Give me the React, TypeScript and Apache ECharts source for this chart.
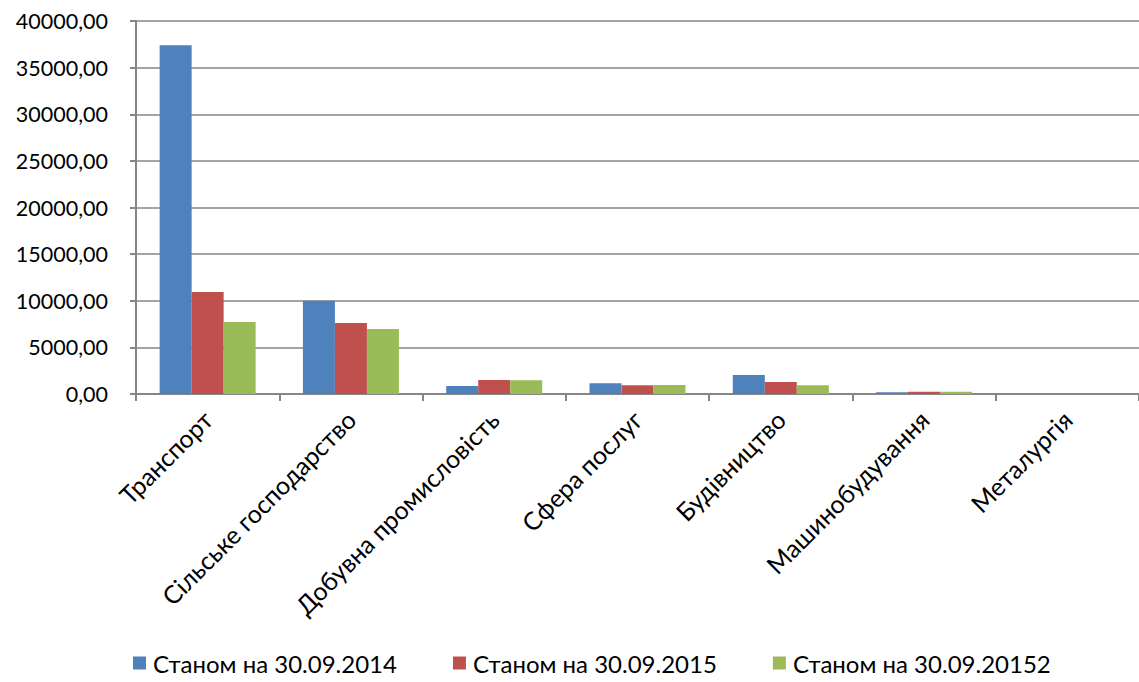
import React, { useEffect, useRef } from "react";
import * as echarts from "echarts";

const categories = [
  "Транспорт",
  "Сільське господарство",
  "Добувна промисловість",
  "Сфера послуг",
  "Будівництво",
  "Машинобудування",
  "Металургія",
];
const seriesNames = ["Станом на 30.09.2014", "Станом на 30.09.2015", "Станом на 30.09.20152"];
const values2014 = [37400, 10010, 860, 1150, 2040, 200, 0];
const values2015 = [10950, 7620, 1500, 940, 1290, 230, 0];
const values20152 = [7730, 6980, 1470, 970, 940, 240, 0];
const colors = ["#4F81BD", "#C0504D", "#9BBB59"];

const FONT = "Lato, sans-serif";

export default function App() {
  const ref = useRef<HTMLDivElement>(null);
  useEffect(() => {
    if (!ref.current) return;
    const chart = echarts.init(ref.current, undefined, { renderer: "svg" });
    const data = [values2014, values2015, values20152];
    chart.setOption({
      animation: false,
      backgroundColor: "#ffffff",
      textStyle: { fontFamily: FONT },
      grid: { left: 136, top: 21, width: 1008, height: 373, containLabel: false },
      legend: {
        top: 651,
        left: 133,
        padding: 0,
        itemWidth: 13,
        itemHeight: 13,
        itemGap: 56,
        icon: "rect",
        textStyle: { fontFamily: FONT, fontSize: 24, color: "#000", padding: [0, 0, 0, 2] },
        data: seriesNames,
      },
      xAxis: {
        type: "category",
        data: categories,
        axisLine: { lineStyle: { color: "#868686", width: 2 } },
        axisTick: { show: true, length: 7, lineStyle: { color: "#868686", width: 2 } },
        axisLabel: {
          rotate: 45,
          interval: 0,
          fontSize: 25,
          color: "#000",
          fontFamily: FONT,
          margin: 21,
        },
      },
      yAxis: {
        type: "value",
        min: 0,
        max: 40000,
        interval: 5000,
        axisLine: { show: true, lineStyle: { color: "#868686", width: 2 } },
        axisTick: { show: true, length: 6, lineStyle: { color: "#868686", width: 2 } },
        splitLine: { lineStyle: { color: "#868686", width: 1.5 } },
        axisLabel: {
          fontSize: 21.5,
          color: "#000",
          fontFamily: FONT,
          margin: 28,
          formatter: (v: number) => v.toFixed(2).replace(".", ","),
        },
      },
      series: seriesNames.map((name, i) => ({
        name,
        type: "bar",
        data: data[i],
        barWidth: 32,
        barGap: "0%",
        itemStyle: { color: colors[i] },
      })),
    });
    return () => chart.dispose();
  }, []);
  return (
    <div
      ref={ref}
      style={{ position: "fixed", left: 0, top: 0, width: 1139, height: 682 }}
    />
  );
}
